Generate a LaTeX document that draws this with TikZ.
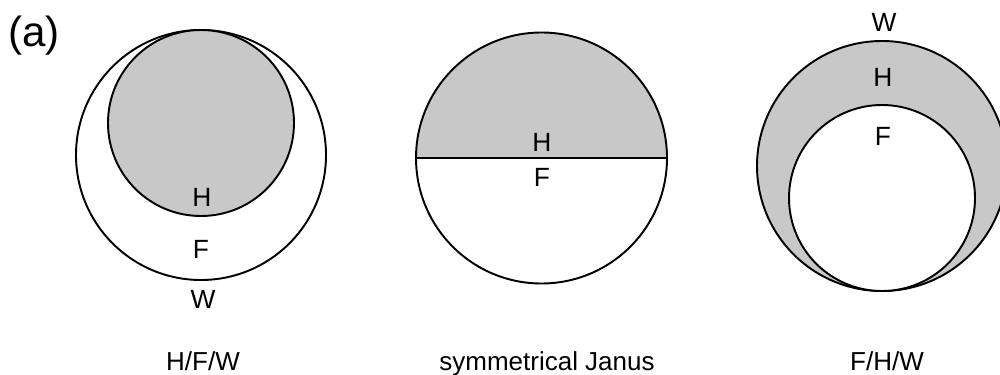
\documentclass[tikz,border=0pt]{standalone}
\usepackage{fontspec}
\setmainfont{Liberation Sans}
\usepackage{xcolor}
\usepackage{tikz}

\definecolor{shellgray}{RGB}{200,200,200}

\begin{document}
\begin{tikzpicture}[
    x=0.02cm, y=-0.02cm,
    shell/.style = {draw=black, line width=1.1pt},
    label/.style = {inner sep=0pt, anchor=base, font=\fontsize{15}{17}\selectfont},
    caption/.style = {inner sep=0pt, anchor=base, font=\fontsize{14.8}{17}\selectfont}
]
\useasboundingbox (0,0) rectangle (1000,375);
\clip (0,0) rectangle (1000,375);

% Panel tag
\node (tag) [inner sep=0pt, anchor=base, font=\fontsize{24}{27}\selectfont] at (34,47) {(a)};

% H/F/W: core touching the shell at the top
\draw [shell, fill=white] (201,155) circle (125);
\draw [shell, fill=shellgray] (201,123) circle (93);
\node (hfwH) [label] at (202,206) {H};
\node (hfwF) [label] at (201,258) {F};
\node (hfwW) [label] at (203,308) {W};
\node (hfwcap) [caption] at (203,370) {H/F/W};

% Symmetrical Janus
\fill [shellgray] (416,158) arc (180:360:125.5) -- cycle;
\draw [shell] (541.5,158) circle (125.5);
\draw [shell] (416,158) -- (667,158);
\node (janH) [label] at (542,152) {H};
\node (janF) [label] at (542,186) {F};
\node (jancap) [caption] at (547,370) {symmetrical Janus};

% F/H/W: core touching the shell at the bottom
\draw [shell, fill=shellgray] (882,166) circle (125);
\draw [shell, fill=white] (882,198) circle (93);
\node (fhwW) [label] at (884,32) {W};
\node (fhwH) [label] at (883,87) {H};
\node (fhwF) [label] at (883,145) {F};
\node (fhwcap) [caption] at (887,370) {F/H/W};

\end{tikzpicture}
\end{document}
